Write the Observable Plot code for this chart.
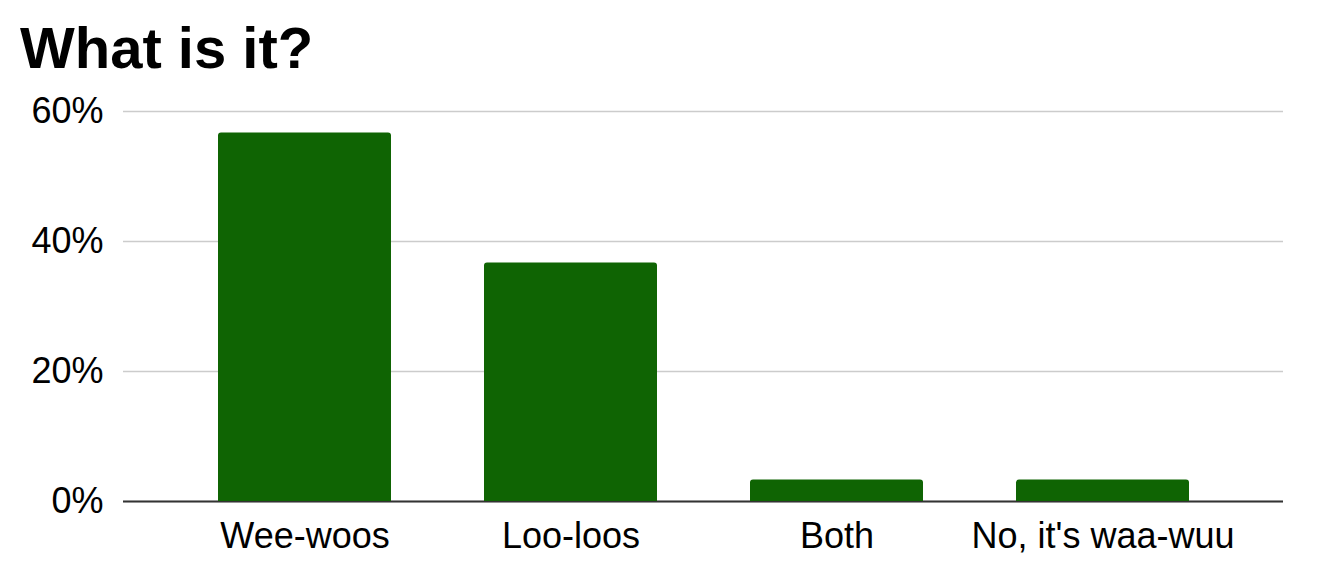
<!DOCTYPE html>
<html>
<head>
<meta charset="utf-8">
<script src="https://cdn.jsdelivr.net/npm/d3@7"></script>
<script src="https://cdn.jsdelivr.net/npm/@observablehq/plot@0.6"></script>
<style>
  html, body { margin: 0; padding: 0; background: #fff; }
  #title {
    font-family: "Liberation Sans", Arial, sans-serif;
    font-weight: bold;
    font-size: 58px;
    line-height: 58px;
    padding: 19px 0 0 20px;
    height: 58px;
    color: #000;
  }
  #chart svg { display: block; }
</style>
</head>
<body>
<div id="title">What is it?</div>
<div id="chart"></div>
<script>
const categories = ["Wee-woos", "Loo-loos", "Both", "No, it's waa-wuu"];
const values = [56.7, 36.7, 3.3, 3.3];
const yTicks = [0, 20, 40, 60];

const data = categories.map((c, i) => ({category: c, value: values[i]}));

const chart = Plot.plot({
  width: 1330,
  height: 505,
  marginTop: 34,
  marginBottom: 81,
  marginLeft: 123,
  marginRight: 47,
  style: {fontFamily: '"Liberation Sans", Arial, sans-serif', fontSize: "36px", color: "#000", background: "#fff"},
  x: {domain: categories, padding: 0.35, label: null},
  y: {domain: [0, 60], label: null},
  marks: [
    Plot.gridY(yTicks, {stroke: "#cccccc", strokeOpacity: 1, strokeWidth: 1.5}),
    Plot.ruleY([0], {stroke: "#333333", strokeWidth: 2}),
    Plot.barY(data, {x: "category", y: "value", fill: "#0f6403", ry1: 3}),
    Plot.axisY(yTicks, {tickSize: 0, tickPadding: 20, tickFormat: d => d + "%", label: null, fontSize: 36}),
    Plot.axisX({tickSize: 0, tickPadding: 21, label: null, fontSize: 36})
  ]
});
document.getElementById("chart").appendChild(chart);
</script>
</body>
</html>
